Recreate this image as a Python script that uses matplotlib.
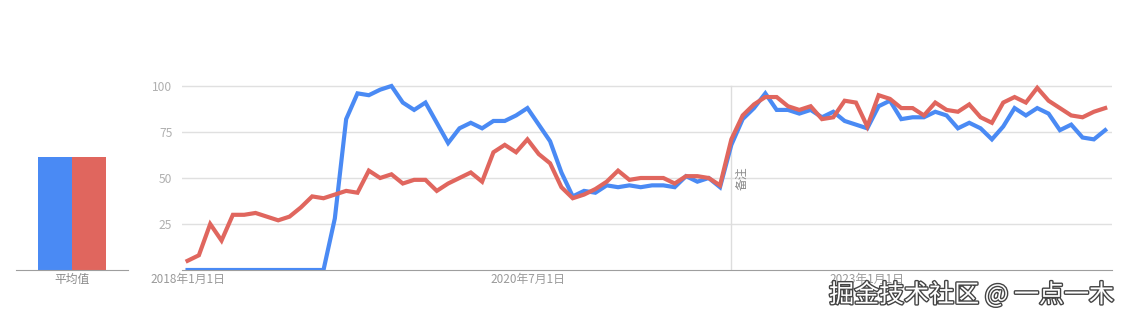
import matplotlib.pyplot as plt
import matplotlib.patheffects as pe

plt.rcParams['font.family'] = ['Noto Sans CJK SC', 'DejaVu Sans']

# ================= 数据 =================
# 月度数据 2018-01 ~ 2024-10
blue = [0, 0, 0, 0, 0, 0, 0, 0, 0, 0, 0, 0, 0, 28,
        82, 96, 95, 98, 100, 91, 87, 91, 80, 69, 77, 80, 77, 81,
        81, 84, 88, 79, 70, 53, 40, 43, 42, 46, 45, 46, 45, 46,
        46, 45, 51, 48, 50, 45, 68, 82, 88, 96, 87, 87, 85, 87,
        83, 86, 81, 79, 77, 89, 92, 82, 83, 83, 86, 84, 77,
        80, 77, 71, 78, 88, 84, 88, 85, 76, 79, 72, 71, 76]
red = [5, 8, 25, 16, 30, 30, 31, 29, 27, 29, 34, 40, 39, 41,
       43, 42, 54, 50, 52, 47, 49, 49, 43, 47, 50, 53, 48, 64,
       68, 64, 71, 63, 58, 45, 39, 41, 44, 48, 54, 49, 50, 50,
       50, 47, 51, 51, 50, 46, 71, 84, 90, 94, 94, 89, 87, 89,
       82, 83, 92, 91, 78, 95, 93, 88, 88, 84, 91, 87, 86,
       90, 83, 80, 91, 94, 91, 99, 92, 88, 84, 83, 86, 88]
avg_values = [61.5, 61.5]
avg_label = "平均值"
x_tick_pos = [0, 30, 60]
x_tick_labels = ["2018年1月1日", "2020年7月1日", "2023年1月1日"]
y_ticks = [25, 50, 75, 100]
note_idx = 48
note_text = "备注"
# ========================================

BLUE = '#4a8af4'
RED = '#e0665e'
W, H = 1127, 321

fig = plt.figure(figsize=(W / 100, H / 100), dpi=100)

y0, ytop = 270, 70
ymax = 100 * (y0 - ytop) / (y0 - 86)

# 主图
ax = fig.add_axes([182 / W, (H - y0) / H, (1112 - 182) / W, (y0 - ytop) / H])
xs = list(range(len(blue)))
ax.plot(xs, blue, color=BLUE, lw=3, solid_joinstyle='miter', zorder=3)
ax.plot(xs, red, color=RED, lw=3, solid_joinstyle='miter', zorder=4)
ax.set_xlim(-0.49, 81.6)
ax.set_ylim(0, ymax)
for v in y_ticks:
    ax.axhline(v, color='#e0e0e0', lw=1, zorder=1)
ax.axvline(note_idx, ymax=100 / ymax, color='#dddddd', lw=1, zorder=2)
ax.text(note_idx + 0.9, 50, note_text, rotation=90, color='#8a8a8a', fontsize=8.5,
        ha='center', va='center')
for s in ['top', 'right', 'left']:
    ax.spines[s].set_visible(False)
ax.spines['bottom'].set_color('#9e9e9e')
ax.set_yticks(y_ticks)
ax.set_yticklabels([str(v) for v in y_ticks], color='#b0b0b0', fontsize=8.7)
ax.tick_params(axis='y', length=0, pad=7)
ax.set_xticks(x_tick_pos)
ax.set_xticklabels(x_tick_labels, color='#9a9a9a', fontsize=8.5)
ax.tick_params(axis='x', length=0, pad=2)

# 平均值柱状图
bx = fig.add_axes([16 / W, (H - y0) / H, (128 - 16) / W, (y0 - ytop) / H])
bx.bar([0], [avg_values[0]], width=1, color=BLUE, align='edge')
bx.bar([1], [avg_values[1]], width=1, color=RED, align='edge')
bx.set_xlim(-0.65, 2.65)
bx.set_ylim(0, ymax)
for s in ['top', 'right', 'left']:
    bx.spines[s].set_visible(False)
bx.spines['bottom'].set_color('#9e9e9e')
bx.set_yticks([])
bx.set_xticks([1])
bx.set_xticklabels([avg_label], color='#8a8a8a', fontsize=8.5)
bx.tick_params(axis='x', length=0, pad=2)

# 水印
fig.text(1114 / W, (H - 295) / H, "掘金技术社区 @ 一点一木", color='white',
         fontsize=18, ha='right', va='center',
         path_effects=[pe.withStroke(linewidth=2, foreground='#444444')])

fig.savefig('out.png', dpi=100, facecolor='white')
